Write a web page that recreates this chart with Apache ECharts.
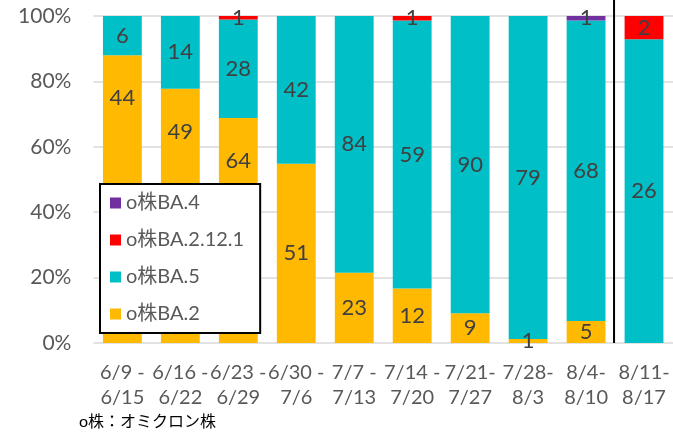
<!DOCTYPE html>
<html>
<head>
<meta charset="utf-8">
<script src="https://cdn.jsdelivr.net/npm/echarts@6/dist/echarts.min.js"></script>
<style>
html,body{margin:0;padding:0;background:#fff;}
#c{width:673px;height:434px;}
</style>
</head>
<body>
<div id="c"></div>
<script>
const categories = ["6/9 -\n6/15","6/16 -\n6/22","6/23 -\n6/29","6/30 -\n7/6","7/7 -\n7/13","7/14 -\n7/20","7/21-\n7/27","7/28-\n8/3","8/4-\n8/10","8/11-\n8/17"];
const ba2     = [44, 49, 64, 51, 23, 12, 9, 1, 5, 0];
const ba5     = [6, 14, 28, 42, 84, 59, 90, 79, 68, 26];
const ba2121  = [0, 0, 1, 0, 0, 1, 0, 0, 0, 2];
const ba4     = [0, 0, 0, 0, 0, 0, 0, 0, 1, 0];
const yTicks  = [0, 20, 40, 60, 80, 100];
const names = ["o株BA.2", "o株BA.5", "o株BA.2.12.1", "o株BA.4"];
const colors = ["#FFB900", "#00BFC6", "#FF0000", "#7030A0"];
const counts = [ba2, ba5, ba2121, ba4];

const totals = categories.map((_, i) => counts.reduce((s, a) => s + a[i], 0));
const FONT = "Lato, 'Noto Sans CJK JP', sans-serif";

const series = counts.map((arr, si) => ({
  name: names[si],
  type: 'bar',
  stack: 'total',
  barWidth: '67%',
  itemStyle: { color: colors[si] },
  label: {
    show: true,
    position: 'inside',
    color: '#404040',
    fontSize: 22,
    fontFamily: FONT,
    formatter: p => arr[p.dataIndex] === 0 ? '' : String(arr[p.dataIndex])
  },
  data: arr.map((v, i) => {
    const item = { value: v / totals[i] * 100 };
    if (si === 0 && i < 3) {
      item.label = { position: 'insideTop', distance: 32 };
    }
    return item;
  })
}));

const footnote = {
  type: 'text',
  left: 79,
  top: 414,
  style: { text: 'o株：オミクロン株', fill: '#000', font: "16px " + FONT }
};

const chart = echarts.init(document.getElementById('c'));
chart.setOption({
  animation: false,
  backgroundColor: '#fff',
  grid: { left: 93.4, top: 16, width: 582.5, height: 327, containLabel: false },
  xAxis: {
    type: 'category',
    data: categories,
    axisLine: { show: false },
    axisTick: { show: false },
    axisLabel: { color: '#595959', fontSize: 20, lineHeight: 25, margin: 17, fontFamily: FONT, interval: 0 }
  },
  yAxis: {
    type: 'value',
    min: yTicks[0],
    max: yTicks[yTicks.length - 1],
    interval: 20,
    axisLine: { show: false },
    axisTick: { show: false },
    splitLine: { lineStyle: { color: '#D9D9D9', width: 1.5 } },
    axisLabel: { color: '#595959', fontSize: 21, margin: 22, fontFamily: FONT, formatter: '{value}%' }
  },
  legend: {
    orient: 'vertical',
    left: 100,
    top: 184,
    data: [names[3], names[2], names[1], names[0]],
    icon: 'rect',
    itemWidth: 11,
    itemHeight: 11,
    itemGap: 17,
    padding: [9, 16, 9, 10],
    backgroundColor: '#fff',
    borderColor: '#000',
    borderWidth: 2,
    textStyle: { color: '#595959', fontSize: 20, fontFamily: FONT },
    z: 10
  },
  series: series,
  graphic: [footnote]
});

const x8 = chart.convertToPixel({ xAxisIndex: 0 }, 8);
const x9 = chart.convertToPixel({ xAxisIndex: 0 }, 9);
const y0 = chart.convertToPixel({ yAxisIndex: 0 }, 0);
const xs = (x8 + x9) / 2 - 1;
chart.setOption({
  graphic: [footnote, {
    type: 'line',
    shape: { x1: xs, y1: 0, x2: xs, y2: y0 },
    style: { stroke: '#000', lineWidth: 2 },
    z: 20
  }]
});
</script>
</body>
</html>
